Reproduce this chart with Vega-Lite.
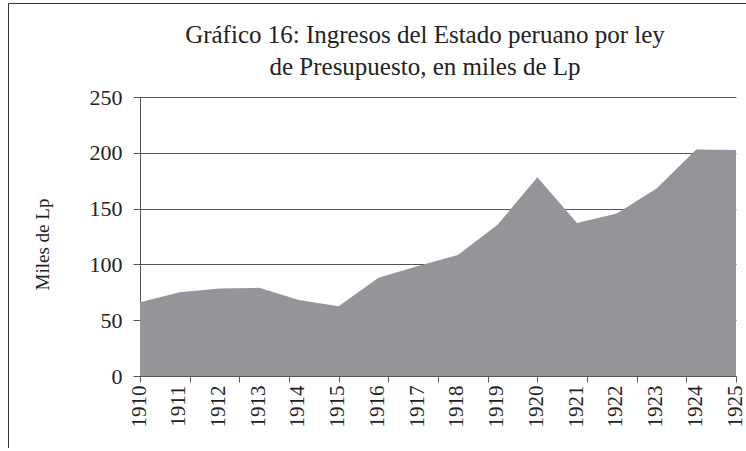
{
  "$schema": "https://vega.github.io/schema/vega-lite/v6.json",
  "width": 738,
  "height": 445,
  "autosize": "none",
  "padding": {"left": 8, "top": 3, "right": 0, "bottom": 0},
  "background": "white",
  "config": {
    "font": "Liberation Serif, serif",
    "view": {"stroke": "#333", "strokeWidth": 1, "strokeDash": [738, 445, 1183, 0]}
  },
  "title": {
    "text": ["Gráfico 16: Ingresos del Estado peruano por ley", "de Presupuesto, en miles de Lp"],
    "font": "Liberation Serif, serif",
    "fontSize": 25,
    "fontWeight": "normal",
    "lineHeight": 32,
    "color": "#222",
    "anchor": "middle",
    "frame": "group",
    "dx": 48,
    "offset": -77
  },
  "data": {
    "values": [
      {"year": 1910, "value": 66},
      {"year": 1911, "value": 75},
      {"year": 1912, "value": 78.5},
      {"year": 1913, "value": 79},
      {"year": 1914, "value": 68},
      {"year": 1915, "value": 62.5},
      {"year": 1916, "value": 88},
      {"year": 1917, "value": 98.5},
      {"year": 1918, "value": 108.5},
      {"year": 1919, "value": 135.5},
      {"year": 1920, "value": 178},
      {"year": 1921, "value": 137},
      {"year": 1922, "value": 145.5},
      {"year": 1923, "value": 168},
      {"year": 1924, "value": 203},
      {"year": 1925, "value": 202.5}
    ]
  },
  "resolve": {"axis": {"x": "independent"}},
  "layer": [
    {
      "mark": {"type": "area", "color": "#939598", "opacity": 1},
      "encoding": {
        "x": {
          "field": "year",
          "type": "quantitative",
          "scale": {"domain": [1910, 1925], "range": [132, 728], "nice": false, "zero": false},
          "axis": {
            "orient": "bottom",
            "title": null,
            "offset": -72,
            "zindex": 1,
            "grid": false,
            "values": [1910, 1911, 1912, 1913, 1914, 1915, 1916, 1917, 1918, 1919, 1920, 1921, 1922, 1923, 1924, 1925],
            "format": "d",
            "labelAngle": -90,
            "labelAlign": "right",
            "labelBaseline": "middle",
            "labelFont": "Liberation Serif, serif",
            "labelFontSize": 21,
            "labelColor": "#222",
            "labelPadding": 9,
            "labelOffset": -1,
            "labelOverlap": false,
            "labelFlush": false,
            "domainColor": "#555",
            "ticks": false
          }
        },
        "y": {
          "field": "value",
          "type": "quantitative",
          "scale": {"domain": [0, 250], "range": [373, 94], "nice": false},
          "axis": {
            "title": "Miles de Lp",
            "titleFont": "Liberation Serif, serif",
            "titleFontSize": 19,
            "titleFontWeight": "normal",
            "titleColor": "#222",
            "titlePadding": 37,
            "titleY": 241,
            "offset": -132,
            "values": [0, 50, 100, 150, 200, 250],
            "grid": true,
            "gridColor": "#555",
            "gridWidth": 1,
            "domainColor": "#555",
            "tickColor": "#555",
            "tickSize": 7,
            "labelPadding": 11,
            "labelFont": "Liberation Serif, serif",
            "labelFontSize": 22,
            "labelColor": "#222"
          }
        }
      }
    },
    {
      "mark": {"type": "point", "opacity": 0},
      "encoding": {
        "x": {
          "field": "year",
          "type": "quantitative",
          "axis": {
            "orient": "bottom",
            "title": null,
            "offset": -72,
            "zindex": 1,
            "grid": false,
            "values": [1910, 1911.25, 1912.5, 1913.75, 1915, 1916.25, 1917.5, 1918.75, 1920, 1921.25, 1922.5, 1923.75, 1925],
            "labels": false,
            "domain": false,
            "ticks": true,
            "tickColor": "#555",
            "tickSize": 6
          }
        },
        "y": {"field": "value", "type": "quantitative"}
      }
    }
  ]
}
